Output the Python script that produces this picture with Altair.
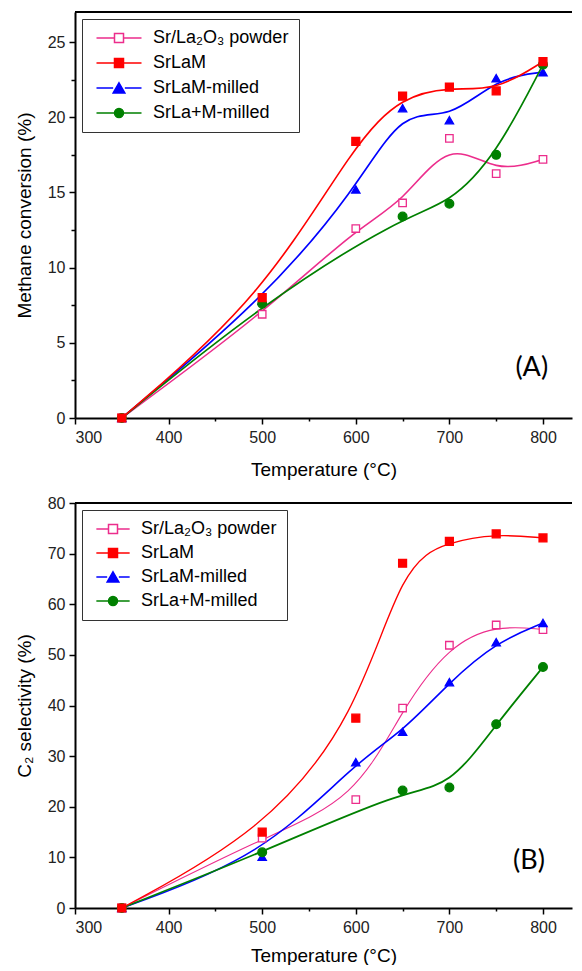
import altair as alt
import pandas as pd

# ---------------- data ----------------
temps = [350, 500, 600, 650, 700, 750, 800]
series_names = ["Sr/La₂O₃ powder", "SrLaM", "SrLaM-milled", "SrLa+M-milled"]

conv_powder = [0.0, 6.9, 12.6, 14.3, 18.6, 16.25, 17.2]
conv_srlam = [0.0, 8.0, 18.4, 21.4, 22.0, 21.75, 23.7]
conv_milled = [0.0, 7.8, 15.2, 20.6, 19.8, 22.6, 23.0]
conv_mix = [0.0, 7.6, None, 13.4, 14.25, 17.5, 23.5]

sel_powder = [0.0, 13.8, 21.4, 39.5, 51.9, 55.9, 55.0]
sel_srlam = [0.0, 15.0, 37.5, 68.1, 72.4, 73.9, 73.1]
sel_milled = [0.0, 10.1, 28.8, 34.8, 44.6, 52.5, 56.3]
sel_mix = [0.0, 11.0, None, 23.2, 23.8, 36.3, 47.6]

panel_tags = ["(A)", "(B)"]
tag_x = [788, 785]
tag_y = [3.3, 9.2]

# ---------------- styling ----------------
line_colors = ["#EC2D8C", "#FF0000", "#0000FF", "#008000"]
fill_colors = ["#FFFFFF", "#FF0000", "#0000FF", "#008000"]
point_shapes = ["square", "square", "triangle-up", "circle"]
point_sizes = [56, 76, 140, 68]
draw_rank = [0, 3, 1, 2]
FONT = "Liberation Sans"


def make_long(values):
    rows = []
    for i, (name, vals) in enumerate(zip(series_names, values)):
        for t, v in zip(temps, vals):
            if v is not None:
                rows.append({"T": t, "v": v, "series": name, "rank": draw_rank[i]})
    return pd.DataFrame(rows).sort_values("rank", kind="stable")


def legend_paths(half):
    sq = "M-1,-1H1V1H-1Z"
    tri = "M0,-1.15L1.3,1.1H-1.3Z"
    circ = "M-1,0A1,1 0 1,0 1,0A1,1 0 1,0 -1,0Z"
    return [
        f"M-{half},0H-1M1,0H{half}" + sq,
        f"M-{half},0H-1M1,0H{half}" + sq,
        f"M-{half},0H-1.3M1.3,0H{half}" + tri,
        f"M-{half},0H-1M1,0H{half}" + circ,
    ]


def panel(df, ytitle, ymax, ystep, ylab, height, half, sym_off, lab_off,
          widths, tag_i, x_title_pad, row_pad):
    xenc = alt.X(
        "T:Q",
        scale=alt.Scale(domain=[300, 831], nice=False, zero=False),
        axis=alt.Axis(
            title="Temperature (°C)",
            values=list(range(300, 801, 50)),
            labelExpr="datum.value % 100 === 0 ? datum.label : ''",
            tickSize={"condition": {"test": "datum.value % 100 === 0", "value": 6}, "value": 3},
            labelPadding=5,
            titlePadding=x_title_pad,
        ),
    )
    nt = int(round(ymax / ystep))
    yvals = [round(i * ystep, 3) for i in range(nt + 1) if i * ystep <= ymax]
    yenc = alt.Y(
        "v:Q",
        scale=alt.Scale(domain=[0, ymax], nice=False, zero=True),
        axis=alt.Axis(
            title=ytitle,
            values=yvals,
            labelExpr=f"datum.value % {ylab} === 0 ? datum.label : ''",
            tickSize={"condition": {"test": f"datum.value % {ylab} === 0", "value": 6}, "value": 4},
            labelPadding=4,
            titlePadding=13,
        ),
    )
    base = alt.Chart(df)

    lines = base.mark_line(interpolate="basis").encode(
        x=xenc,
        y=yenc,
        stroke=alt.Stroke("series:N", scale=alt.Scale(domain=series_names, range=line_colors), legend=None),
        strokeWidth=alt.StrokeWidth("series:N", scale=alt.Scale(domain=series_names, range=widths), legend=None),
    )

    points = base.mark_point(filled=True, strokeWidth=1.3, opacity=1).encode(
        x=xenc,
        y=yenc,
        shape=alt.Shape("series:N", scale=alt.Scale(domain=series_names, range=point_shapes), legend=None),
        fill=alt.Fill("series:N", scale=alt.Scale(domain=series_names, range=fill_colors), legend=None),
        stroke=alt.Stroke("series:N", scale=alt.Scale(domain=series_names, range=line_colors), legend=None),
        size=alt.Size("series:N", scale=alt.Scale(domain=series_names, range=point_sizes), legend=None),
    )

    leg = alt.Legend(
        title=None,
        orient="top-left",
        offset=7,
        padding=10,
        strokeColor="#333333",
        fillColor="white",
        labelFont=FONT,
        labelFontSize=18,
        labelColor="black",
        labelLimit=300,
        symbolSize=81,
        symbolStrokeWidth=1.5,
        symbolOpacity=1,
        symbolOffset=sym_off,
        labelOffset=lab_off,
        rowPadding=row_pad,
    )
    legend_layer = base.transform_filter("false").mark_point(filled=True, strokeWidth=1.5, opacity=1).encode(
        x=xenc,
        y=yenc,
        shape=alt.Shape("series:N", scale=alt.Scale(domain=series_names, range=legend_paths(half)), legend=leg),
        fill=alt.Fill("series:N", scale=alt.Scale(domain=series_names, range=fill_colors), legend=leg),
        stroke=alt.Stroke("series:N", scale=alt.Scale(domain=series_names, range=line_colors), legend=leg),
    )

    tag_df = pd.DataFrame({"T": [tag_x[tag_i]], "v": [tag_y[tag_i]], "t": [panel_tags[tag_i]]})
    tag = alt.Chart(tag_df).mark_text(font="Lato", fontSize=27, color="black").encode(
        x=alt.X("T:Q"), y=alt.Y("v:Q"), text="t:N"
    )

    top = alt.Chart(pd.DataFrame({"k": [0]})).mark_rule(color="black", strokeWidth=2).encode(
        y=alt.value(0)
    )

    return (
        alt.layer(lines, points, legend_layer, tag, top)
        .resolve_scale(shape="independent", fill="independent", stroke="independent",
                       size="independent", strokeWidth="independent")
        .resolve_legend(shape="independent", fill="independent", stroke="independent")
        .properties(width=497, height=height)
    )


dfA = make_long([conv_powder, conv_srlam, conv_milled, conv_mix])
dfB = make_long([sel_powder, sel_srlam, sel_milled, sel_mix])

pA = panel(dfA, "Methane conversion (%)", 27, 2.5, 5, 406, 5, 18, 25,
           [1.6, 1.7, 1.7, 1.6], 0, 15, 7)
pB = panel(dfB, "C₂ selectivity (%)", 80, 5, 10, 405, 3.7, 12, 19,
           [1.1, 1.8, 2.2, 1.7], 1, 11, 6)

chart = (
    alt.vconcat(pA, pB, spacing=16)
    .resolve_scale(x="independent", y="independent", shape="independent",
                   fill="independent", stroke="independent")
    .resolve_legend(shape="independent", fill="independent", stroke="independent")
    .properties(padding={"left": 7, "top": 3, "right": 0, "bottom": 0}, background="white")
    .configure_view(stroke=None)
    .configure_axis(
        grid=False,
        domainColor="black",
        domainWidth=2,
        tickColor="black",
        tickWidth=1.5,
        labelFont=FONT,
        labelFontSize=16,
        labelColor="#222222",
        titleFont=FONT,
        titleFontSize=19,
        titleFontWeight="normal",
        titleColor="black",
    )
)

chart.save("out.html", embed_options={"renderer": "svg", "actions": False})
